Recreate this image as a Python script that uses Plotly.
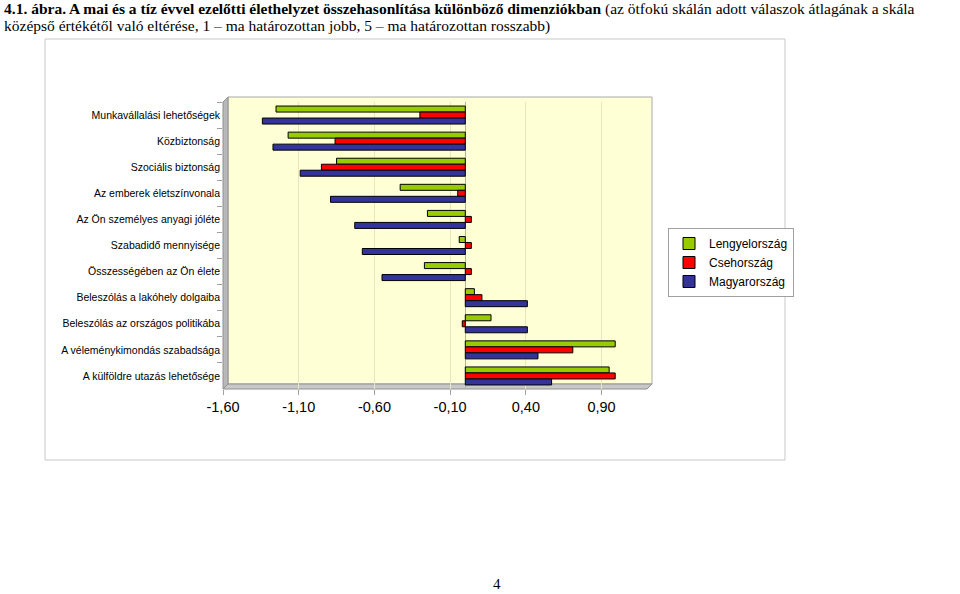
import plotly.graph_objects as go

categories = [
    "Munkavállalási lehetőségek",
    "Közbiztonság",
    "Szociális biztonság",
    "Az emberek életszínvonala",
    "Az Ön személyes anyagi jóléte",
    "Szabadidő mennyisége",
    "Összességében az Ön élete",
    "Beleszólás a lakóhely dolgaiba",
    "Beleszólás az országos politikába",
    "A véleménykimondás szabadsága",
    "A külföldre utazás lehetősége",
]
lengyel = [-1.25, -1.17, -0.85, -0.43, -0.25, -0.04, -0.27, 0.06, 0.17, 0.99, 0.95]
cseh = [-0.30, -0.86, -0.95, -0.05, 0.04, 0.04, 0.04, 0.11, -0.02, 0.71, 0.99]
magyar = [-1.34, -1.27, -1.09, -0.89, -0.73, -0.68, -0.55, 0.41, 0.41, 0.48, 0.57]

tick_vals = [-1.6, -1.1, -0.6, -0.1, 0.4, 0.9]
tick_text = ["-1,60", "-1,10", "-0,60", "-0,10", "0,40", "0,90"]

series = [
    ("Lengyelország", lengyel, "#99CC00"),
    ("Csehország", cseh, "#FF0000"),
    ("Magyarország", magyar, "#333399"),
]

fig = go.Figure()
for name, vals, col in series:
    fig.add_trace(go.Bar(
        y=categories, x=vals, name=name, orientation="h",
        marker=dict(color=col, line=dict(color="black", width=1)),
    ))

# plot area 223..647 x 102..389 (page pixels, body margin removed below)
def px(x):
    return (x - 223) / 424

def py(y):
    return (389 - y) / 287

dx, dy = 5 / 424, 5 / 287
shapes = [
    dict(type="rect", xref="paper", yref="paper",
         x0=px(45), x1=px(785), y0=py(460), y1=py(39),
         line=dict(color="#C8C8C8", width=1), fillcolor="rgba(0,0,0,0)", layer="below"),
    dict(type="rect", xref="paper", yref="paper",
         x0=dx, x1=1 + dx, y0=dy, y1=1 + dy,
         line=dict(color="#A8A8A8", width=1), fillcolor="#FFFFD5", layer="below"),
    dict(type="path", xref="paper", yref="paper",
         path=f"M 0 0 L {dx} {dy} L {dx} {1 + dy} L 0 1 Z",
         line=dict(color="#909090", width=1), fillcolor="#B8B8B8", layer="below"),
    dict(type="path", xref="paper", yref="paper",
         path=f"M 0 0 L 1 0 L {1 + dx} {dy} L {dx} {dy} Z",
         line=dict(color="#909090", width=1), fillcolor="#C8C8C8", layer="below"),
]

title1 = ("<b>4.1. ábra. A mai és a tíz évvel ezelőtti élethelyzet összehasonlítása különböző dimenziókban</b>"
          " (az ötfokú skálán adott válaszok átlagának a skála")
title2 = "középső értékétől való eltérése, 1 – ma határozottan jobb, 5 – ma határozottan rosszabb)"
serif = "Liberation Serif, Times New Roman, serif"

fig.update_layout(
    width=960, height=594,
    margin=dict(l=223, r=313, t=102, b=205),
    paper_bgcolor="white", plot_bgcolor="rgba(0,0,0,0)",
    barmode="group", bargap=0.31, bargroupgap=0,
    font=dict(family="Liberation Sans, Arial, sans-serif", color="black"),
    shapes=shapes,
    showlegend=True,
    legend=dict(x=px(668), y=py(228), xanchor="left", yanchor="top",
                bordercolor="#A0A0A0", borderwidth=1, bgcolor="white",
                font=dict(size=12), tracegroupgap=0, traceorder="normal",
                itemwidth=30),
    annotations=[
        dict(text=title1, xref="paper", yref="paper", x=px(2), y=py(9),
             xanchor="left", yanchor="middle", showarrow=False, align="left",
             font=dict(family=serif, size=15.5)),
        dict(text=title2, xref="paper", yref="paper", x=px(2), y=py(26),
             xanchor="left", yanchor="middle", showarrow=False, align="left",
             font=dict(family=serif, size=15.5)),
        dict(text="4", xref="paper", yref="paper", x=px(497), y=py(584),
             xanchor="center", yanchor="middle", showarrow=False,
             font=dict(family=serif, size=15)),
    ],
)
fig.update_xaxes(range=[-1.6, 1.2], tickvals=tick_vals, ticktext=tick_text,
                 showgrid=True, gridcolor="#E6E6C0",
                 zeroline=True, zerolinecolor="#B0B0B0", zerolinewidth=1,
                 ticks="outside", ticklen=5, tickcolor="#A0A0A0",
                 showline=False, tickfont=dict(size=14.5))
fig.update_yaxes(autorange="reversed", ticks="outside", tickson="boundaries",
                 ticklen=5, tickcolor="#A0A0A0", showgrid=False,
                 tickfont=dict(size=10.5), ticklabelstandoff=2)

fig.write_html("out.html", config={"displayModeBar": False},
               post_script="document.body.style.margin='0';")
